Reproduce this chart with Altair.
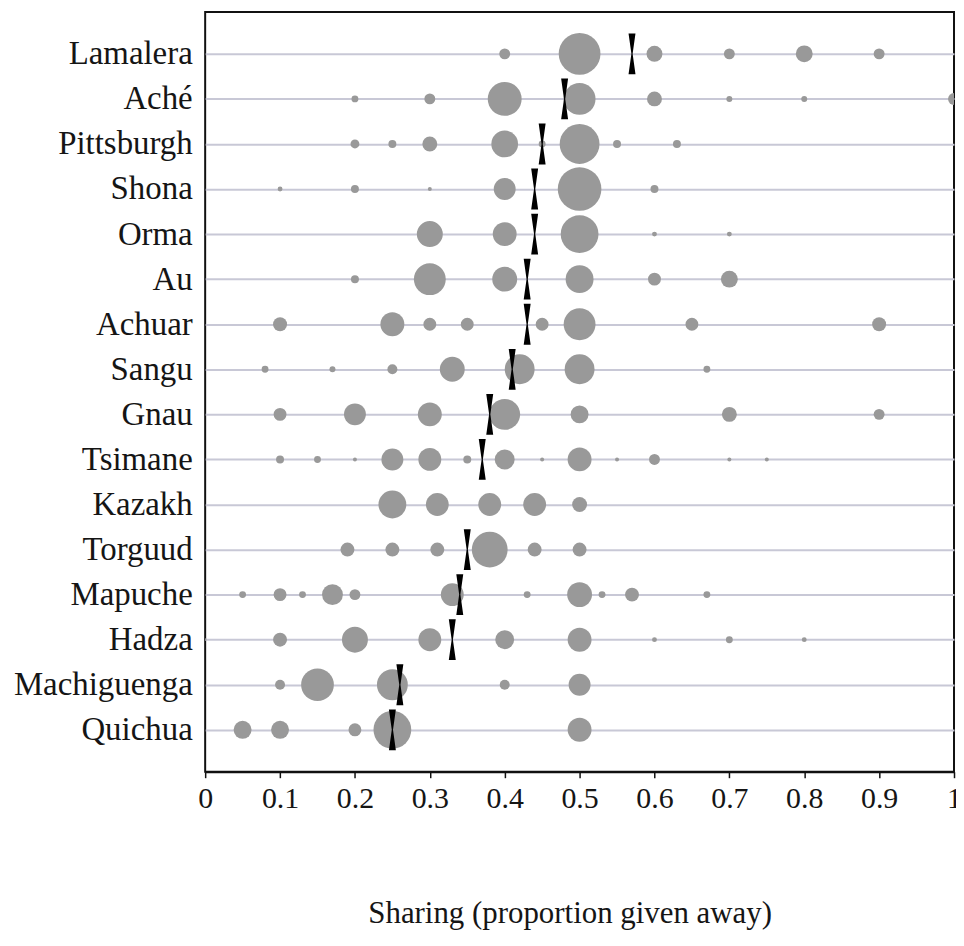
import altair as alt
import pandas as pd

groups = ["Lamalera", "Aché", "Pittsburgh", "Shona", "Orma", "Au", "Achuar", "Sangu",
          "Gnau", "Tsimane", "Kazakh", "Torguud", "Mapuche", "Hadza", "Machiguenga", "Quichua"]

# offer values (proportion given away) and share of players (%) at each offer
lamalera_x = [0.4, 0.5, 0.6, 0.7, 0.8, 0.9]
lamalera_s = [3.0, 44, 6.4, 3.0, 7.2, 3.0]
ache_x = [0.2, 0.3, 0.4, 0.5, 0.6, 0.7, 0.8, 1.0]
ache_s = [1.2, 3.0, 29, 25.6, 5.6, 0.9, 0.9, 3.6]
pittsburgh_x = [0.2, 0.25, 0.3, 0.4, 0.45, 0.5, 0.55, 0.63]
pittsburgh_s = [2.0, 1.6, 5.6, 18, 1.2, 40, 1.6, 1.6]
shona_x = [0.1, 0.2, 0.3, 0.4, 0.5, 0.6]
shona_s = [0.6, 1.6, 0.4, 12.1, 48, 1.6]
orma_x = [0.3, 0.4, 0.5, 0.6, 0.7]
orma_s = [17, 14.4, 36, 0.6, 0.6]
au_x = [0.2, 0.3, 0.4, 0.5, 0.6, 0.7]
au_s = [1.6, 25.6, 15.6, 19.6, 4.2, 7.2]
achuar_x = [0.1, 0.25, 0.3, 0.35, 0.45, 0.5, 0.65, 0.9]
achuar_s = [4.9, 14.4, 4.2, 4.2, 4.2, 25.6, 4.2, 4.9]
sangu_x = [0.08, 0.17, 0.25, 0.33, 0.42, 0.5, 0.67]
sangu_s = [1.2, 0.9, 2.5, 15.6, 22.5, 22.5, 1.2]
gnau_x = [0.1, 0.2, 0.3, 0.4, 0.5, 0.7, 0.9]
gnau_s = [4.2, 12.1, 14.4, 24, 8.1, 5.6, 3.0]
tsimane_x = [0.1, 0.15, 0.2, 0.25, 0.3, 0.35, 0.4, 0.45, 0.5, 0.55, 0.6, 0.7, 0.75]
tsimane_s = [1.6, 1.2, 0.4, 12.1, 13.2, 1.6, 10, 0.4, 14.4, 0.4, 3.0, 0.4, 0.4]
kazakh_x = [0.25, 0.31, 0.38, 0.44, 0.5]
kazakh_s = [19.6, 13.2, 13.2, 13.2, 5.6]
torguud_x = [0.19, 0.25, 0.31, 0.38, 0.44, 0.5]
torguud_s = [4.9, 4.9, 4.9, 32.4, 4.9, 4.9]
mapuche_x = [0.05, 0.1, 0.13, 0.17, 0.2, 0.33, 0.43, 0.5, 0.53, 0.57, 0.67]
mapuche_s = [1.2, 4.2, 1.2, 11, 3.0, 13.2, 1.2, 15.6, 1.2, 4.9, 1.2]
hadza_x = [0.0, 0.1, 0.2, 0.3, 0.4, 0.5, 0.6, 0.7, 0.8]
hadza_s = [0.2, 4.9, 17, 13.2, 9.0, 14.4, 0.6, 1.2, 0.6]
machiguenga_x = [0.1, 0.15, 0.25, 0.4, 0.5]
machiguenga_s = [2.5, 27, 24, 2.5, 12.1]
quichua_x = [0.05, 0.1, 0.2, 0.25, 0.5]
quichua_s = [8.1, 8.1, 4.2, 36, 14.4]

# mean offers (Kazakh has no marker in the figure)
means = [0.57, 0.48, 0.45, 0.44, 0.44, 0.43, 0.43, 0.41,
         0.38, 0.37, None, 0.35, 0.34, 0.33, 0.26, 0.25]

xs_all = [lamalera_x, ache_x, pittsburgh_x, shona_x, orma_x, au_x, achuar_x, sangu_x,
          gnau_x, tsimane_x, kazakh_x, torguud_x, mapuche_x, hadza_x, machiguenga_x, quichua_x]
ss_all = [lamalera_s, ache_s, pittsburgh_s, shona_s, orma_s, au_s, achuar_s, sangu_s,
          gnau_s, tsimane_s, kazakh_s, torguud_s, mapuche_s, hadza_s, machiguenga_s, quichua_s]

rows = []
for g, xs, ss in zip(groups, xs_all, ss_all):
    for x, s in zip(xs, ss):
        rows.append({"group": g, "x": x, "share": s})
df = pd.DataFrame(rows)
mdf = pd.DataFrame([{"group": g, "x": m} for g, m in zip(groups, means) if m is not None])

FONT = "Liberation Serif"
BOWTIE = "M-0.17,-1 L0.17,-1 L0.03,0 L0.17,1 L-0.17,1 L-0.03,0 Z"

y_enc = alt.Y(
    "group:N", sort=groups,
    scale=alt.Scale(type="point", padding=0.93),
    axis=alt.Axis(title=None, grid=True, gridColor="#c8c8d6", gridWidth=2,
                  ticks=False, domain=False, labelFont=FONT, labelFontSize=33,
                  labelColor="#151515", labelPadding=13),
)
x_enc = alt.X(
    "x:Q",
    scale=alt.Scale(domain=[0, 1], nice=False, zero=False),
    axis=alt.Axis(values=[0, 0.1, 0.2, 0.3, 0.4, 0.5, 0.6, 0.7, 0.8, 0.9, 1.0],
                  format="~g", grid=False, domain=True, domainColor="#111", domainWidth=2,
                  ticks=True, tickSize=6, tickWidth=1.5, tickColor="#111",
                  labelFont=FONT, labelFontSize=30, labelColor="#151515", labelPadding=6,
                  labelFlush=False,
                  title="Sharing (proportion given away)", titleFont=FONT, titleFontSize=31,
                  titleFontWeight="normal", titleColor="#151515", titleX=366, titleY=151,
                  titleBaseline="alphabetic", titleAlign="center"),
)

points = alt.Chart(df).mark_point(
    shape="circle", filled=True, opacity=1, color="#999999", strokeWidth=0, clip=True
).encode(
    x=x_enc, y=y_enc,
    size=alt.Size("share:Q", scale=alt.Scale(domain=[0, 50], range=[0, 2000]), legend=None),
)

bowties = alt.Chart(mdf).mark_point(
    shape=BOWTIE, filled=True, color="#000000", opacity=1, size=1681, strokeWidth=0
).encode(x=x_enc, y=y_enc)

chart = alt.layer(points, bowties).properties(
    width=752, height=763,
    autosize=alt.AutoSizeParams(type="none"),
    padding={"left": 198, "top": 2, "right": 2, "bottom": 158},
    background="white",
).configure_view(stroke="#111", strokeWidth=2)

chart.save("out.html", embed_options={"renderer": "svg", "actions": False})
